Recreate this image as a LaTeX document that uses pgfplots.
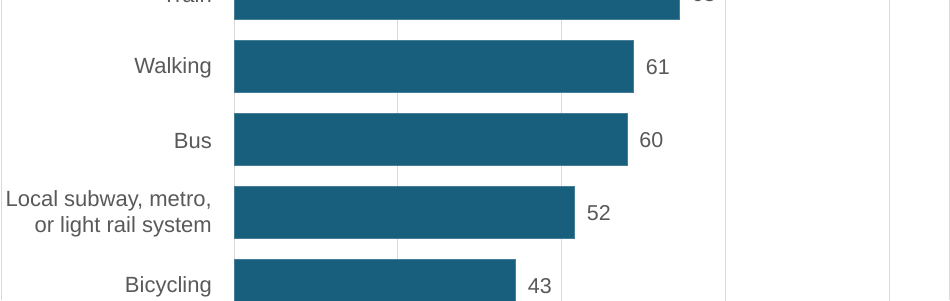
\documentclass[border=0pt]{standalone}
\usepackage{fontspec}
\setmainfont{Liberation Sans}
\usepackage{pgfplots}
\pgfplotsset{compat=1.18}
\definecolor{barblue}{RGB}{24,94,125}
\definecolor{txtgray}{RGB}{89,89,89}
\definecolor{gridgray}{RGB}{217,217,217}
\begin{document}
\begin{tikzpicture}
\useasboundingbox (0,0) rectangle (950pt,300pt);
\begin{scope}
\clip (0,0) rectangle (950pt,300pt);
\begin{axis}[
  at={(234pt,357.8pt)}, anchor=north west,
  x=6.55pt, y=73pt, y dir=reverse,
  xmin=0, xmax=100, ymin=-0.7, ymax=4.6,
  xbar, bar width=52pt,
  axis line style={draw=none}, tick style={draw=none}, major tick length=0pt,
  xtick={0,25,50,75,100}, xticklabels={},
  xmajorgrids, grid style={color=gridgray, line width=1pt},
  ytick={0,1,2,3,4},
  yticklabels={Train,Walking,Bus,{Local subway, metro,\\or light rail system},Bicycling},
  yticklabel style={font=\fontsize{22}{26}\selectfont, color=txtgray, align=right, anchor=east, inner sep=0pt, xshift=-22pt, yshift=-1.5pt},
  /pgf/number format/assume math mode=true,
  nodes near coords, point meta=x,
  every node near coord/.append style={font=\fontsize{21.5}{25}\selectfont, color=txtgray, anchor=west, inner sep=0pt, xshift=12pt, yshift=-1pt},
]
\addplot[fill=barblue, draw=barblue!80!white, line width=0.6pt] coordinates {(68,0) (61,1) (60,2) (52,3) (43,4)};
\end{axis}
\end{scope}
\draw[gridgray, line width=1pt] (1pt,0) -- (1pt,300pt);
\draw[gridgray, line width=1pt] (949pt,0) -- (949pt,300pt);
\end{tikzpicture}
\end{document}
